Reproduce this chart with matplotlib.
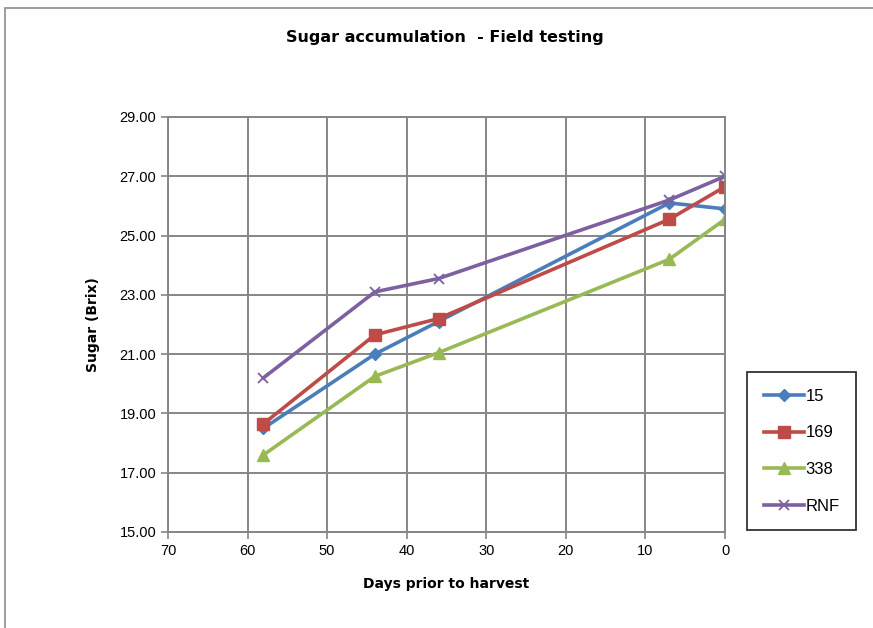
import numpy as np
import matplotlib
matplotlib.use("Agg")
import matplotlib.pyplot as plt
from matplotlib.patches import Rectangle

# Data
days = [58, 44, 36, 7, 0]
s15 = [18.5, 21.0, 22.1, 26.1, 25.9]
s169 = [18.65, 21.65, 22.2, 25.55, 26.65]
s338 = [17.6, 20.25, 21.05, 24.2, 25.55]
rnf = [20.2, 23.1, 23.55, 26.2, 27.0]
series_names = ['15', '169', '338', 'RNF']

fig = plt.figure(figsize=(8.73, 6.28), dpi=100)
ax = fig.add_axes([0.1924, 0.1529, 0.6381, 0.6608])

# outer chart border (partly cropped in the original)
fig.patches.append(Rectangle((5 / 873, -0.1), 1.2, 1 - 8 / 628 + 0.1, transform=fig.transFigure,
                             fill=False, edgecolor='#8c8c8c', linewidth=1.2))

ax.plot(days, s15, color='#4A7EBB', lw=2.6, marker='D', ms=6.5, label=series_names[0])
ax.plot(days, s169, color='#BE4B48', lw=2.6, marker='s', ms=8.5, label=series_names[1])
ax.plot(days, s338, color='#98B954', lw=2.6, marker='^', ms=8.5, label=series_names[2])
ax.plot(days, rnf, color='#7D60A0', lw=2.6, marker='x', ms=7.5, mew=1.3, label=series_names[3])

ax.set_xlim(70, 0)
ax.set_ylim(15, 29)
ax.set_xticks(np.arange(70, -1, -10))
ax.set_yticks(np.arange(15, 29.1, 2))
ax.set_yticklabels([f'{v:.2f}' for v in np.arange(15, 29.1, 2)])
ax.grid(True, color='#868686', linewidth=1.4)
ax.set_axisbelow(True)
for sp in ax.spines.values():
    sp.set_color('#868686')
    sp.set_linewidth(1.4)
ax.tick_params(axis='both', colors='#868686', length=5, width=1.2, labelcolor='black', labelsize=10.5)
for lab in ax.get_xticklabels() + ax.get_yticklabels():
    lab.set_family('Liberation Sans')

ax.set_xlabel('Days prior to harvest', fontsize=10, fontweight='bold', labelpad=14)
ax.set_ylabel('Sugar (Brix)', fontsize=10, fontweight='bold', labelpad=14)
fig.text(0.51, 0.94, 'Sugar accumulation  - Field testing', ha='center', va='center',
         fontsize=11.5, fontweight='bold')

leg = fig.legend(loc='upper left', bbox_to_anchor=(747 / 873, 1 - 372 / 628), frameon=True,
                 fancybox=False, edgecolor='black', borderpad=1.0, borderaxespad=0,
                 labelspacing=1.3, handlelength=2.4, handletextpad=0.1,
                 prop={'family': 'Liberation Sans', 'size': 12})
leg.get_frame().set_linewidth(1.3)

fig.savefig('out.png', dpi=100)
